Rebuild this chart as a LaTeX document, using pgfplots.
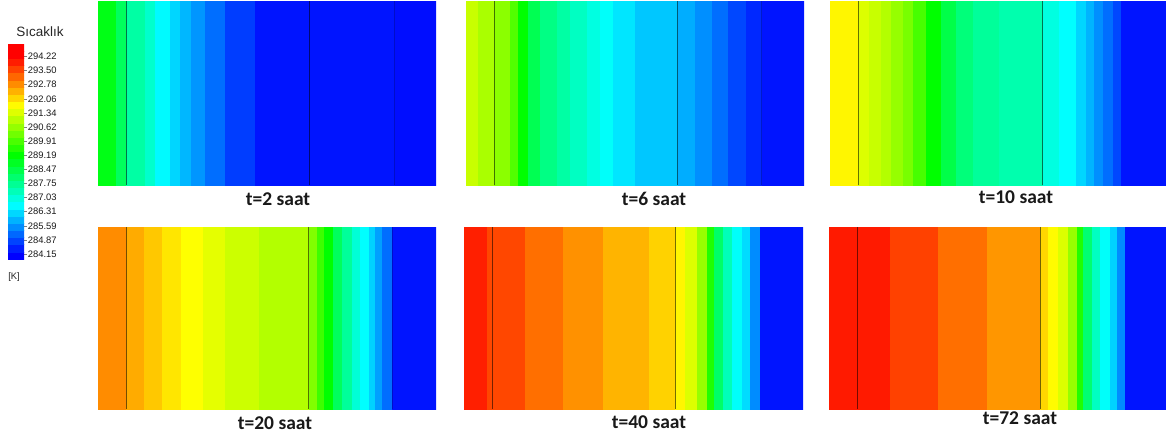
\documentclass[border=0pt]{standalone}
\usepackage{pgfplots}
\pgfplotsset{compat=1.18}
\usepackage{fontspec}
\setmainfont{Liberation Sans}
\newfontfamily\calibri{Carlito}
\pgfplotsset{
  colormap={fluent}{rgb255=(0,0,255) rgb255=(0,255,255) rgb255=(0,255,0) rgb255=(255,255,0) rgb255=(255,0,0)},
  panel/.style={scale only axis, hide axis, anchor=north west, ymin=0, ymax=1, xmin=0,
    point meta min=284.15, point meta max=294.22, colormap name=fluent},
  stripes/.style={surf, shader=flat corner, mesh/rows=2, point meta=\thisrow{c}},
  wall/.style={draw=black, draw opacity=0.55, line width=0.7bp},
  wallb/.style={draw=black!60!blue, draw opacity=0.35, line width=0.5bp},
}
\begin{document}
\begin{tikzpicture}
\path[use as bounding box] (0,0) rectangle (1166bp,-439bp);
% ---------------- colour bar
\begin{axis}[scale only axis, anchor=north west, at={(8bp,-44bp)}, width=16bp, height=215bp,
  xmin=0, xmax=1, ymin=283.9, ymax=294.85, colormap name=fluent,
  point meta min=284.15, point meta max=294.22,
  axis line style={draw=none}, xtick=\empty, ytick pos=right, yticklabel pos=right,
  tick align=outside, major tick length=2.5bp, tick style={gray, line width=0.4bp},
  ytick={284.15,284.87,285.59,286.31,287.03,287.75,288.47,289.19,289.91,290.62,291.34,292.06,292.78,293.50,294.22},
  yticklabels={284.15,284.87,285.59,286.31,287.03,287.75,288.47,289.19,289.91,290.62,291.34,292.06,292.78,293.50,294.22},
  yticklabel style={font=\fontsize{9.4bp}{10bp}\selectfont, text=black!90, inner xsep=1.2bp},
  /pgf/number format/assume math mode=true]
\addplot[surf, shader=flat corner, mesh/cols=2, point meta=\thisrow{c}] table[row sep=\\] {
x y c\\
0 283.90 284.00\\ 1 283.90 284.00\\
0 284.27 284.45\\ 1 284.27 284.45\\
0 284.63 284.81\\ 1 284.63 284.81\\
0 285.00 285.18\\ 1 285.00 285.18\\
0 285.36 285.54\\ 1 285.36 285.54\\
0 285.73 285.91\\ 1 285.73 285.91\\
0 286.09 286.27\\ 1 286.09 286.27\\
0 286.46 286.64\\ 1 286.46 286.64\\
0 286.82 287.00\\ 1 286.82 287.00\\
0 287.19 287.37\\ 1 287.19 287.37\\
0 287.55 287.73\\ 1 287.55 287.73\\
0 287.92 288.10\\ 1 287.92 288.10\\
0 288.28 288.46\\ 1 288.28 288.46\\
0 288.65 288.83\\ 1 288.65 288.83\\
0 289.01 289.19\\ 1 289.01 289.19\\
0 289.38 289.56\\ 1 289.38 289.56\\
0 289.74 289.92\\ 1 289.74 289.92\\
0 290.11 290.29\\ 1 290.11 290.29\\
0 290.47 290.65\\ 1 290.47 290.65\\
0 290.84 291.02\\ 1 290.84 291.02\\
0 291.20 291.38\\ 1 291.20 291.38\\
0 291.57 291.75\\ 1 291.57 291.75\\
0 291.93 292.11\\ 1 291.93 292.11\\
0 292.30 292.48\\ 1 292.30 292.48\\
0 292.66 292.84\\ 1 292.66 292.84\\
0 293.03 293.21\\ 1 293.03 293.21\\
0 293.39 293.57\\ 1 293.39 293.57\\
0 293.76 293.94\\ 1 293.76 293.94\\
0 294.12 294.30\\ 1 294.12 294.30\\
0 294.49 294.67\\ 1 294.49 294.67\\
0 294.85 294.85\\ 1 294.85 294.85\\
};
\end{axis}
\node[font=\fontsize{13.5bp}{14bp}\selectfont, text=black!85] at (40bp,-32bp) {Sıcaklık};
\node[font=\fontsize{9.4bp}{10bp}\selectfont, text=black!85] at (14bp,-277bp) {[K]};
% ---------------- t = 2
\begin{axis}[panel, at={(98bp,-1bp)}, width=338bp, height=184bp, xmax=338]
\addplot[stripes] table[row sep=\\] {
x y c\\
0 0 288.98\\ 18.3 0 288.28\\ 28.3 0 287.57\\ 46.7 0 287.17\\ 56.7 0 286.62\\ 71.7 0 286.26\\ 81.7 0 285.96\\
93.3 0 285.63\\ 106.7 0 285.24\\ 126.7 0 284.75\\ 156.7 0 284.35\\ 296.7 0 284.28\\ 338 0 284.28\\
0 1 288.98\\ 18.3 1 288.28\\ 28.3 1 287.57\\ 46.7 1 287.17\\ 56.7 1 286.62\\ 71.7 1 286.26\\ 81.7 1 285.96\\
93.3 1 285.63\\ 106.7 1 285.24\\ 126.7 1 284.75\\ 156.7 1 284.35\\ 296.7 1 284.28\\ 338 1 284.28\\
};
\addplot[wall] coordinates {(28.3,0) (28.3,1)};
\addplot[wall] coordinates {(211.3,0) (211.3,1)};
\addplot[wallb] coordinates {(296.7,0) (296.7,1)};
\end{axis}
% ---------------- t = 6
\begin{axis}[panel, at={(466bp,-1bp)}, width=338bp, height=184bp, xmax=338]
\addplot[stripes] table[row sep=\\] {
x y c\\
0 0 291.16\\ 12.3 0 290.87\\ 28.3 0 290.56\\ 44 0 289.99\\ 52.3 0 289.19\\ 62.3 0 288.38\\ 74 0 287.88\\
90.7 0 287.57\\ 104 0 287.27\\ 120.7 0 286.97\\ 134 0 286.72\\ 147.3 0 286.42\\ 169 0 286.12\\ 211.7 0 285.86\\
229 0 285.56\\ 245.7 0 285.24\\ 262.3 0 284.85\\ 280 0 284.55\\ 295.7 0 284.35\\ 338 0 284.35\\
0 1 291.16\\ 12.3 1 290.87\\ 28.3 1 290.56\\ 44 1 289.99\\ 52.3 1 289.19\\ 62.3 1 288.38\\ 74 1 287.88\\
90.7 1 287.57\\ 104 1 287.27\\ 120.7 1 286.97\\ 134 1 286.72\\ 147.3 1 286.42\\ 169 1 286.12\\ 211.7 1 285.86\\
229 1 285.56\\ 245.7 1 285.24\\ 262.3 1 284.85\\ 280 1 284.55\\ 295.7 1 284.35\\ 338 1 284.35\\
};
\addplot[wall] coordinates {(28.3,0) (28.3,1)};
\addplot[wall] coordinates {(211.7,0) (211.7,1)};
\addplot[wallb] coordinates {(295.7,0) (295.7,1)};
\end{axis}
% ---------------- t = 10
\begin{axis}[panel, at={(830bp,-1bp)}, width=336bp, height=184bp, xmax=336]
\addplot[stripes] table[row sep=\\] {
x y c\\
0 0 291.80\\ 28.3 0 291.36\\ 39.3 0 291.16\\ 51 0 290.96\\ 61 0 290.67\\ 72.7 0 290.37\\ 83.3 0 289.89\\
96 0 289.19\\ 111 0 288.48\\ 126 0 287.98\\ 142.7 0 287.67\\ 169.3 0 287.47\\ 212.7 0 286.97\\ 229.3 0 286.67\\
246 0 286.26\\ 256 0 285.93\\ 264.3 0 285.56\\ 272.7 0 285.24\\ 282.7 0 284.85\\ 291 0 284.35\\ 336 0 284.35\\
0 1 291.80\\ 28.3 1 291.36\\ 39.3 1 291.16\\ 51 1 290.96\\ 61 1 290.67\\ 72.7 1 290.37\\ 83.3 1 289.89\\
96 1 289.19\\ 111 1 288.48\\ 126 1 287.98\\ 142.7 1 287.67\\ 169.3 1 287.47\\ 212.7 1 286.97\\ 229.3 1 286.67\\
246 1 286.26\\ 256 1 285.93\\ 264.3 1 285.56\\ 272.7 1 285.24\\ 282.7 1 284.85\\ 291 1 284.35\\ 336 1 284.35\\
};
\addplot[wall] coordinates {(28.3,0) (28.3,1)};
\addplot[wall] coordinates {(212.7,0) (212.7,1)};
\end{axis}
% ---------------- t = 20
\begin{axis}[panel, at={(98bp,-227bp)}, width=338bp, height=182bp, xmax=338]
\addplot[stripes] table[row sep=\\] {
x y c\\
0 0 292.84\\ 28 0 292.54\\ 45.7 0 292.25\\ 64 0 291.95\\ 83.3 0 291.70\\ 104.7 0 291.45\\ 127.3 0 291.20\\
160.7 0 290.96\\ 210.7 0 290.46\\ 219 0 289.79\\ 225.7 0 289.19\\ 234.7 0 288.28\\ 244 0 287.67\\ 254 0 287.07\\
262.3 0 286.67\\ 270.7 0 286.22\\ 277.3 0 285.73\\ 284 0 285.24\\ 294 0 284.35\\ 338 0 284.35\\
0 1 292.84\\ 28 1 292.54\\ 45.7 1 292.25\\ 64 1 291.95\\ 83.3 1 291.70\\ 104.7 1 291.45\\ 127.3 1 291.20\\
160.7 1 290.96\\ 210.7 1 290.46\\ 219 1 289.79\\ 225.7 1 289.19\\ 234.7 1 288.28\\ 244 1 287.67\\ 254 1 287.07\\
262.3 1 286.67\\ 270.7 1 286.22\\ 277.3 1 285.73\\ 284 1 285.24\\ 294 1 284.35\\ 338 1 284.35\\
};
\addplot[wall] coordinates {(28,0) (28,1)};
\addplot[wall] coordinates {(210.7,0) (210.7,1)};
\addplot[wallb] coordinates {(294,0) (294,1)};
\end{axis}
% ---------------- t = 40
\begin{axis}[panel, at={(464bp,-227bp)}, width=339bp, height=182bp, xmax=339]
\addplot[stripes] table[row sep=\\] {
x y c\\
0 0 293.92\\ 22.7 0 293.52\\ 61 0 293.13\\ 98.7 0 292.79\\ 139.3 0 292.45\\ 185.3 0 292.15\\ 211 0 291.80\\
221 0 291.36\\ 232.7 0 290.67\\ 242.7 0 289.49\\ 250 0 288.18\\ 259.3 0 287.37\\ 267.7 0 286.72\\ 277.7 0 286.32\\
286 0 285.53\\ 296 0 284.35\\ 339 0 284.35\\
0 1 293.92\\ 22.7 1 293.52\\ 61 1 293.13\\ 98.7 1 292.79\\ 139.3 1 292.45\\ 185.3 1 292.15\\ 211 1 291.80\\
221 1 291.36\\ 232.7 1 290.67\\ 242.7 1 289.49\\ 250 1 288.18\\ 259.3 1 287.37\\ 267.7 1 286.72\\ 277.7 1 286.32\\
286 1 285.53\\ 296 1 284.35\\ 339 1 284.35\\
};
\addplot[wall] coordinates {(28.3,0) (28.3,1)};
\addplot[wall] coordinates {(211,0) (211,1)};
\end{axis}
% ---------------- t = 72
\begin{axis}[panel, at={(829bp,-227bp)}, width=337bp, height=182bp, xmax=337]
\addplot[stripes] table[row sep=\\] {
x y c\\
0 0 293.97\\ 61 0 293.58\\ 109.3 0 293.13\\ 158.3 0 292.74\\ 211 0 292.11\\ 219.3 0 291.75\\ 229.3 0 291.36\\
239.3 0 290.67\\ 247.7 0 289.49\\ 254.3 0 288.08\\ 262.7 0 287.27\\ 271 0 286.72\\ 281 0 286.22\\ 287.7 0 285.53\\
296 0 284.35\\ 337 0 284.35\\
0 1 293.97\\ 61 1 293.58\\ 109.3 1 293.13\\ 158.3 1 292.74\\ 211 1 292.11\\ 219.3 1 291.75\\ 229.3 1 291.36\\
239.3 1 290.67\\ 247.7 1 289.49\\ 254.3 1 288.08\\ 262.7 1 287.27\\ 271 1 286.72\\ 281 1 286.22\\ 287.7 1 285.53\\
296 1 284.35\\ 337 1 284.35\\
};
\addplot[wall] coordinates {(28.3,0) (28.3,1)};
\addplot[wall] coordinates {(211,0) (211,1)};
\end{axis}
% ---------------- captions
\begin{scope}[every node/.style={font=\calibri\bfseries\fontsize{19.5bp}{20bp}\selectfont, text=black!90}]
\node at (278bp,-199bp) {t=2 saat};
\node at (654bp,-199bp) {t=6 saat};
\node at (1016bp,-197bp) {t=10 saat};
\node at (275bp,-423bp) {t=20 saat};
\node at (649bp,-422bp) {t=40 saat};
\node at (1020bp,-418bp) {t=72 saat};
\end{scope}
\end{tikzpicture}
\end{document}
